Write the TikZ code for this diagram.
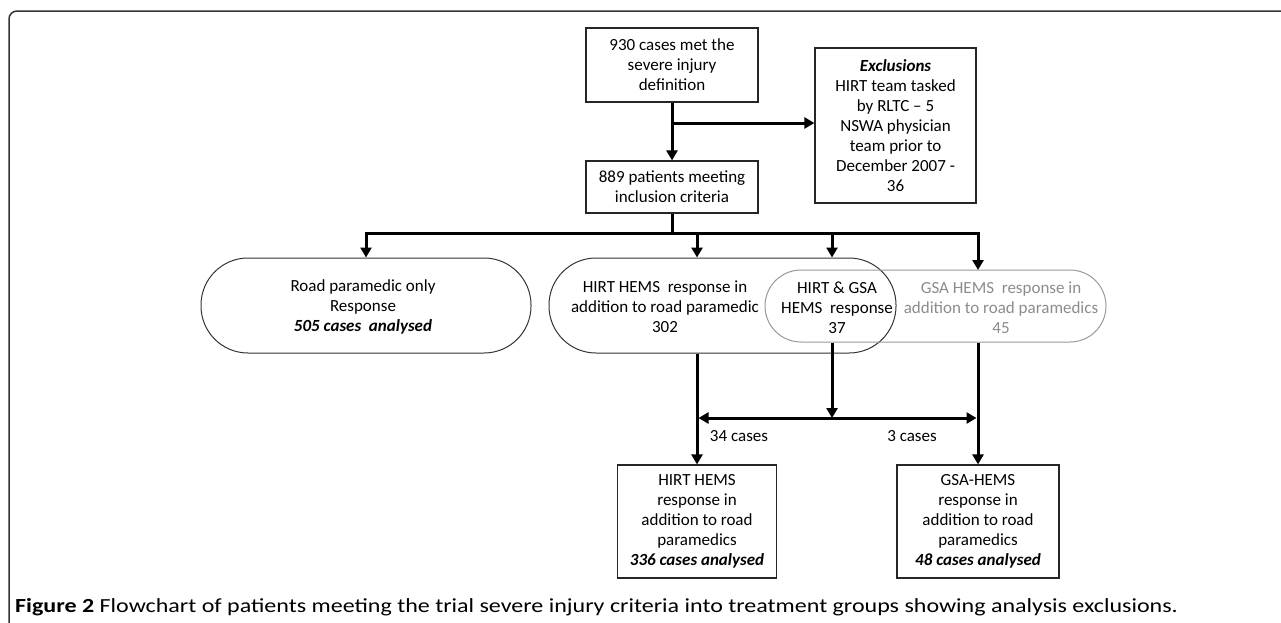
\documentclass[tikz,border=0pt]{standalone}
\usepackage{fontspec}
\setmainfont{Carlito}
\usetikzlibrary{arrows.meta,calc}
\tikzset{
  txt/.style={align=center, inner sep=0pt, font=\fontsize{17}{20}\selectfont},
  box/.style={txt, draw=black!85, line width=1.2pt},
  pill/.style={draw=black!80, line width=1pt, inner sep=0pt},
  greypill/.style={draw=black!40, line width=1pt, inner sep=0pt},
  arr/.style={line width=3pt, -{Triangle[length=10pt,width=11pt]}},
  darr/.style={line width=3pt, {Triangle[length=10pt,width=11pt]}-{Triangle[length=10pt,width=11pt]}},
  bar/.style={line width=3pt},
  frame/.style={line width=1.5pt, draw=black!80, rounded corners=8pt}
}
\begin{document}
\begin{tikzpicture}[x=1pt,y=-1pt]
\useasboundingbox (0,0) rectangle (1281,622);
% frame
\draw[frame] (9,640) -- (9,11) -- (1300,11);
% boxes
\node[box, minimum width=172pt, minimum height=74pt] (top) at (672,65) {930 cases met the\\severe injury\\definition};
\node[box, minimum width=172pt, minimum height=52pt] (incl) at (672,187) {889 patients meeting\\inclusion criteria};
\node[box, minimum width=161pt, minimum height=155pt] (excl) at (895.5,125.5) {\textbf{\textit{Exclusions}}\\HIRT team tasked\\by RLTC -- 5\\NSWA physician\\team prior to\\December 2007 -\\36};
% pills
\node[pill, rounded corners=47pt, minimum width=330pt, minimum height=95pt] (road) at (366,305.5) {};
\node[pill, rounded corners=47pt, minimum width=347pt, minimum height=95pt] (hirt) at (722.5,305.5) {};
\node[greypill, rounded corners=36pt, minimum width=341pt, minimum height=72pt] (gsa) at (935.5,306) {};
\node[txt] (roadtxt) at (363,307) {Road paramedic only\\Response\\\textbf{\textit{505 cases\ \ analysed}}};
\node[txt] (hirttxt) at (665,307) {HIRT HEMS\ \ response in\\addition to road paramedic\\302};
\node[txt] (bothtxt) at (837,308) {HIRT \& GSA\\HEMS\ \ response\\37};
\node[txt, text=black!45] (gsatxt) at (1001,308) {GSA HEMS\ \ response in\\addition to road paramedics\\45};
% lower boxes
\node[box, minimum width=159pt, minimum height=113pt] (hbox) at (697,521.5) {HIRT HEMS\\response in\\addition to road\\paramedics\\\textbf{\textit{336 cases analysed}}};
\node[box, minimum width=162pt, minimum height=113pt] (gbox) at (978,521.5) {GSA-HEMS\\response in\\addition to road\\paramedics\\\textbf{\textit{48 cases analysed}}};
\node[txt] (l34) at (739,436) {34 cases};
\node[txt] (l3) at (912,436) {3 cases};
% caption
\node[anchor=west, inner sep=0pt] (cap) at (15,607) {\scalebox{1.2}[1]{\fontsize{20}{24}\selectfont\textbf{Figure 2} Flowchart of patients meeting the trial severe injury criteria into treatment groups showing analysis exclusions.}};
% connectors
\draw[arr] (top) -- (incl);
\coordinate (br) at (672,123);
\draw[arr] (br) -- (br -| excl.west);
\coordinate (hbar) at (672,233);
\draw[bar] (incl.south) -- (hbar);
\coordinate (gsaIn) at (978,270);
\draw[arr] (hbar) -| (road.north);
\draw[arr] (hbar) -| (gsaIn);
\coordinate (d1) at (697,233);
\coordinate (d2) at (832,233);
\draw[arr] (d1) -- (d1 |- hirt.north);
\draw[arr] (d2) -- (d2 |- hirt.north);
\draw[arr] (hirt.south -| d1) -- (hbox.north);
\draw[arr] (gsa.south -| gsaIn) -- (gbox.north);
\coordinate (mid) at (832,418);
\draw[arr] (gsa.south -| d2) -- (mid);
\coordinate (hl) at (698.5,418);
\coordinate (hr) at (976.5,418);
\draw[darr] (hl) -- (hr);
\end{tikzpicture}
\end{document}
